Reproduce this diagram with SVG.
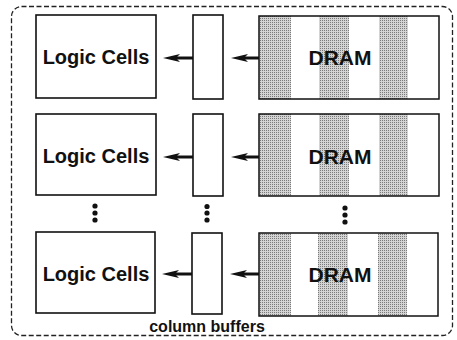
<svg xmlns="http://www.w3.org/2000/svg" width="457" height="340" viewBox="0 0 457 340">
  <style>
    .box { fill: #fff; stroke: #111; stroke-width: 1.6; }
    .stripe { fill: url(#stipple); }
    .frame { fill: none; stroke: #111; stroke-width: 1.5; }
    .outer { fill: none; stroke: #222; stroke-width: 1.3; stroke-dasharray: 5 2.5; }
    .lbl { font-family: "Liberation Sans", Arial, sans-serif; font-weight: bold; fill: #111; text-anchor: middle; }
    .arrow { stroke: #111; stroke-width: 3; fill: none; marker-end: url(#head); }
    .dot { fill: #111; }
  </style>
  <defs>
    <pattern id="stipple" width="2" height="2" patternUnits="userSpaceOnUse">
      <rect width="2" height="2" fill="#d4d4d4"/>
      <rect width="1" height="1" fill="#7a7a7a"/>
    </pattern>
    <marker id="head" viewBox="0 0 17 8" refX="8" refY="4" markerWidth="17" markerHeight="8" markerUnits="userSpaceOnUse" orient="auto">
      <path d="M17,4 L0,0 L4,4 L0,8 Z" fill="#111"/>
    </marker>
  </defs>

  <!-- dashed enclosure -->
  <rect class="outer" x="11.5" y="6.5" width="441" height="329" rx="10" ry="10"/>

  <!-- row 1 -->
  <g id="logic1">
    <rect class="box" x="36" y="15" width="120" height="83"/>
    <text class="lbl" x="96" y="64" font-size="20">Logic Cells</text>
  </g>
  <g id="buffer1">
    <rect class="box" x="193" y="15" width="30" height="84"/>
  </g>
  <g id="dram1">
    <rect x="259" y="16" width="180" height="83" fill="#fff"/>
    <rect class="stripe" x="259" y="16" width="32" height="83"/>
    <rect class="stripe" x="319" y="16" width="30" height="83"/>
    <rect class="stripe" x="379" y="16" width="29" height="83"/>
    <rect class="frame" x="259" y="16" width="180" height="83"/>
    <text class="lbl" x="340" y="65" font-size="21">DRAM</text>
  </g>

  <!-- row 2 -->
  <g id="logic2">
    <rect class="box" x="36" y="114" width="120" height="81"/>
    <text class="lbl" x="96" y="163" font-size="20">Logic Cells</text>
  </g>
  <g id="buffer2">
    <rect class="box" x="193" y="114" width="30" height="82"/>
  </g>
  <g id="dram2">
    <rect x="259" y="114" width="180" height="82" fill="#fff"/>
    <rect class="stripe" x="259" y="114" width="32" height="82"/>
    <rect class="stripe" x="319" y="114" width="30" height="82"/>
    <rect class="stripe" x="379" y="114" width="29" height="82"/>
    <rect class="frame" x="259" y="114" width="180" height="82"/>
    <text class="lbl" x="340" y="164" font-size="21">DRAM</text>
  </g>

  <!-- row 3 -->
  <g id="logic3">
    <rect class="box" x="36" y="232" width="119" height="81"/>
    <text class="lbl" x="96" y="281" font-size="20">Logic Cells</text>
  </g>
  <g id="buffer3">
    <rect class="box" x="192" y="233" width="30" height="81"/>
  </g>
  <g id="dram3">
    <rect x="259" y="233" width="179" height="83" fill="#fff"/>
    <rect class="stripe" x="259" y="233" width="32" height="83"/>
    <rect class="stripe" x="318" y="233" width="30" height="83"/>
    <rect class="stripe" x="378" y="233" width="29" height="83"/>
    <rect class="frame" x="259" y="233" width="179" height="83"/>
    <text class="lbl" x="340" y="282" font-size="21">DRAM</text>
  </g>

  <!-- ellipsis dots between rows -->
  <g id="ellipsis">
    <circle class="dot" cx="95" cy="206" r="2.6"/>
    <circle class="dot" cx="95" cy="213" r="2.6"/>
    <circle class="dot" cx="95" cy="220" r="2.6"/>
    <circle class="dot" cx="207" cy="206.5" r="2.6"/>
    <circle class="dot" cx="207" cy="213" r="2.6"/>
    <circle class="dot" cx="207" cy="220" r="2.6"/>
    <circle class="dot" cx="345" cy="208" r="2.6"/>
    <circle class="dot" cx="345" cy="215" r="2.6"/>
    <circle class="dot" cx="345" cy="222" r="2.6"/>
  </g>

  <!-- data flow arrows (line ends 9px short of the tip; the marker supplies the rest) -->
  <g id="connectors">
    <line class="arrow" x1="193" y1="58" x2="172" y2="58"/>
    <line class="arrow" x1="259" y1="58" x2="240" y2="58"/>
    <line class="arrow" x1="193" y1="157" x2="172" y2="157"/>
    <line class="arrow" x1="259" y1="157" x2="240" y2="157"/>
    <line class="arrow" x1="192" y1="274" x2="171" y2="274"/>
    <line class="arrow" x1="259" y1="274" x2="239" y2="274"/>
  </g>

  <text class="lbl" x="207" y="332" font-size="16">column buffers</text>
</svg>
